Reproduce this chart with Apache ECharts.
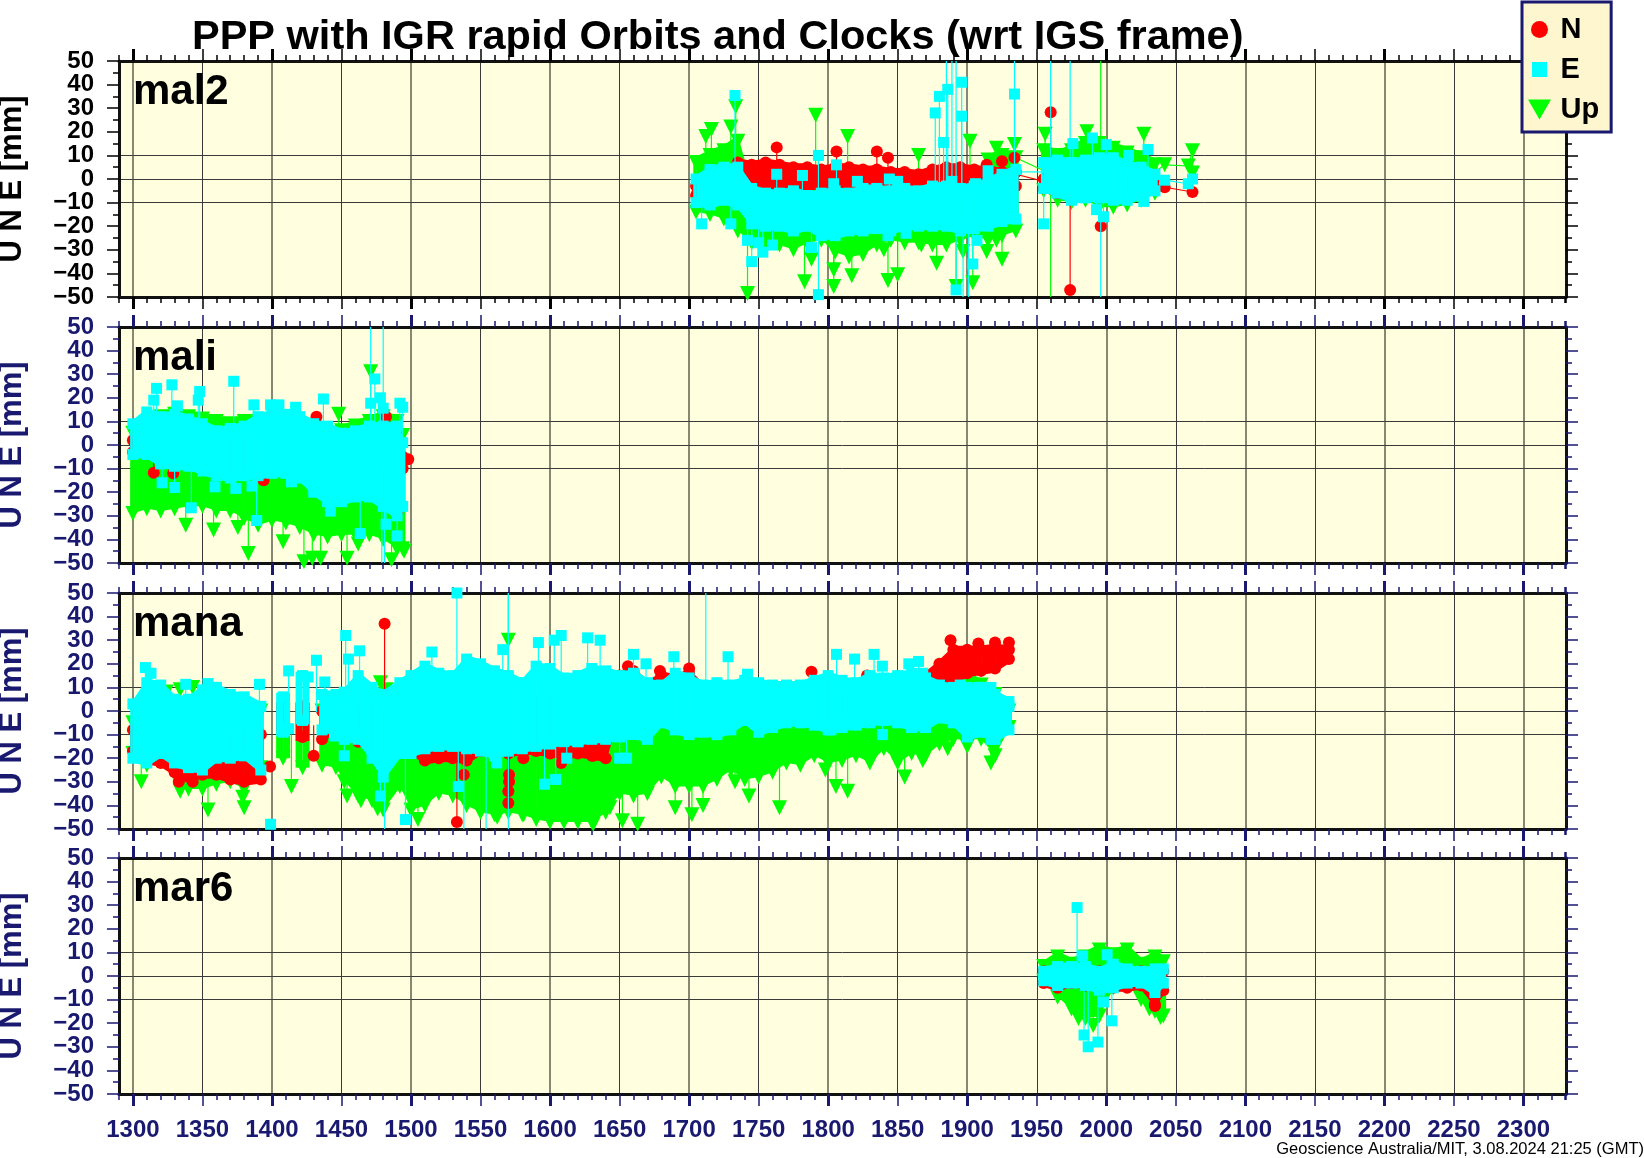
<!DOCTYPE html>
<html><head><meta charset="utf-8"><style>html,body{margin:0;padding:0;background:#fff}#c{width:1644px;height:1158px}</style>
<script src="https://cdn.jsdelivr.net/npm/echarts@6/dist/echarts.min.js"></script></head><body><div id="c"></div>
<script>
const stations=['mal2','mali','mana','mar6'];
const chartTitle='PPP with IGR rapid Orbits and Clocks (wrt IGS frame)';
const yLabelText='U N E [mm]';
const footer='Geoscience Australia/MIT, 3.08.2024 21:25 (GMT)';
const xMajorLabels=[1300,1350,1400,1450,1500,1550,1600,1650,1700,1750,1800,1850,1900,1950,2000,2050,2100,2150,2200,2250,2300];
const yLabelsA=[-50,-30,-10,10,30,50];
const yLabelsB=[-40,-20,0,20,40];

// mal2
const mal2Days=[1705,1715,1725,1735,1745,1755,1765,1775,1785,1795,1805,1815,1825,1835,1845,1855,1865,1875,1885,1895,1905,1915,1925,1935,1955,1965,1975,1985,1995,2005,2015,2025,2035];
const mal2EHigh=[0,4,5,5,-4,-6,-6,-5,-7,-6,-5,-6,-4,-4,-5,-4,-5,-3,-3,-4,-3,-1,2,4,7,8,7,8,9,9,6,5,2];
const mal2ELow=[-10,-11,-9,-11,-19,-20,-20,-22,-20,-24,-24,-22,-22,-21,-22,-20,-20,-20,-20,-22,-21,-20,-18,-17,-4,-6,-9,-8,-8,-9,-9,-7,-5];
const mal2NHigh=[-3,0,0,7,6,7,6,5,5,4,5,5,4,4,3,3,2,4,5,5,4,4,3,3,0,2,2,2,3,3,2,1,0];
const mal2NLow=[-7,-8,-6,-8,-3,-3,-3,-3,-3,-3,-3,-3,-3,-3,-3,-3,-3,-3,-3,-3,-3,-3,-3,-3,-4,-6,-7,-6,-6,-7,-7,-6,-4];
const mal2UpHigh=[7,10,12,16,-6,-6,-6,-6,-6,-6,-6,-6,-6,-6,-6,-6,-6,-6,-6,-6,-6,8,10,9,12,10,12,15,15,13,11,9,6];
const mal2UpLow=[-14,-15,-17,-22,-27,-29,-28,-30,-27,-26,-31,-33,-32,-28,-26,-27,-27,-28,-28,-26,-24,-26,-24,-22,-5,-9,-10,-9,-12,-12,-11,-9,-6];
const mal2EOut=[[1733,35.4],[1709,-19],[1730,-19],[1745,-35],[1753,-31],[1750,-27],[1742,-26],[1760,-28],[1763,2],[1781.5,1.5],[1793,10],[1793,-49],[1788,-29],[1806,6],[1804,-2],[1844,0],[1850,-1],[1821,-1],[1843,-24],[1856,-23],[1877,28],[1880,35],[1886,38],[1883,15.5],[1896,41],[1896,26.6],[1889,-1],[1892,-47],[1907,-26],[1904,-36],[1906,-2],[1915,3.5],[1934,36],[1955,-19],[1976,15],[1990,17.4],[2000,14.6],[2016,10],[2030,12.5],[1993,-13],[1998,-16],[2027,-9.5],[2042,-0.5],[2059,-2],[2062,0],[1885,60],[1889,60],[1892,60],[1897,-60],[1901,-60],[1934,60],[1960,60],[1974,60],[1996,-60]];
const mal2NOut=[[1763,13.4],[1806,11.7],[1835,11.7],[1843,9],[1934,9],[1925,7.5],[1914,6],[1960,28.3],[1974,-47],[1996,-20],[2042,-3.5],[2062,-5.5]];
const mal2UpOut=[[1733.5,30.6],[1791,27],[1814,18],[1865,10],[1902,16],[1716,21],[1712,18],[1730,22],[1921,13],[1934,14.6],[1956,19],[1986,20],[2027,19],[2042,6],[2062,12],[2059,5.5],[2062,2.5],[1742,-48.5],[1783,-43.5],[1804,-45.6],[1804,-38.5],[1817,-41],[1788,-34],[1850,-40.6],[1843,-43],[1878,-35.7],[1892,-45.6],[1904,-44],[1897,-30.7],[1914,-30.7],[1925,-34],[1921,-26],[1867,-28],[1840,-30],[1960,-60],[1996,60]];
const mal2ELinks=[[1935,3,1955,3],[2035,0,2042,-0.5],[2042,-0.5,2059,-2],[2059,-2,2062,0]];
const mal2NLinks=[[1935,2,1955,-1],[2035,-2,2042,-3.5],[2042,-3.5,2062,-5.5]];
const mal2UpLinks=[[1935,9,1957,3],[2035,3,2042,6],[2042,6,2059,5.5],[2059,5.5,2062,12],[2062,12,2062,2.5]];

// mali
const maliDays=[1300,1310,1320,1330,1340,1350,1360,1370,1380,1390,1400,1410,1420,1430,1440,1450,1460,1470,1480,1490,1494];
const maliEHigh=[9,14,12,13,11,9,6,7,8,12,13,13,12,9,8,5,6,8,8,8,1];
const maliELow=[-4,-4,-8,-9,-9,-11,-13,-14,-13,-13,-12,-12,-14,-20,-24,-24,-22,-22,-26,-30,-26];
const maliNHigh=[2,3,2,2,1,1,0,0,0,0,0,0,0,0,-2,-2,-2,-2,-2,-3,-5];
const maliNLow=[-3,-3,-6,-7,-7,-9,-11,-12,-11,-11,-10,-10,-12,-18,-22,-22,-20,-20,-24,-28,-10];
const maliUpHigh=[5,8,12,13,12,11,10,9,10,10,10,10,9,7,5,6,8,10,12,10,4];
const maliUpLow=[-29,-27,-28,-27,-26,-26,-28,-28,-31,-34,-32,-33,-35,-38,-39,-38,-38,-38,-40,-44,-44];
const maliEOut=[[1317,24],[1328,25.5],[1315,19],[1332,16.6],[1348,22.7],[1347,19],[1372.5,27],[1387,17],[1399,17],[1405,17],[1417,16],[1437,19.5],[1474,28],[1478,20],[1471,17.7],[1492,17.7],[1494,16],[1480,15.6],[1321,-16],[1330,-18],[1342,-26.6],[1359,-17.7],[1374,-18.4],[1389,-32],[1385.6,-17.4],[1414,-15.6],[1442,-28],[1463.5,-37.5],[1490,-38.5],[1482,-33.6],[1471,60],[1480,60],[1479,-60],[1481,-60]];
const maliNOut=[[1315,-11.8],[1394,-14.9],[1432,12],[1432,9],[1433,4],[1485,4],[1482,12],[1498,-6],[1341,-8.5],[1377,-10.6],[1329,-12]];
const maliUpOut=[[1471,31],[1448,13],[1338,-34],[1358,-36],[1375.5,-35],[1383,-46],[1408,-41],[1423,-49.5],[1429,-48],[1435,-48],[1454,-48],[1486,-48.6],[1495,-45],[1462,-42]];

// mana
const manaDays=[1300,1310,1320,1330,1340,1350,1360,1370,1380,1392,1408,1422,1436,1446,1452,1462,1472,1480,1492,1500,1510,1520,1530,1540,1550,1560,1570,1580,1590,1600,1610,1620,1630,1640,1650,1660,1670,1680,1690,1700,1710,1720,1730,1740,1750,1760,1770,1780,1790,1800,1810,1820,1830,1840,1850,1860,1870,1880,1890,1900,1910,1920,1930];
const manaEHigh=[3,12,11,5,5,9,10,7,6,2,6,15,7,7,8,15,10,7,12,15,19,16,15,22,20,17,15,12,19,18,14,15,18,17,15,16,12,11,16,14,11,12,11,13,12,11,11,11,13,15,13,12,15,14,15,16,14,11,10,10,10,7,4];
const manaELow=[-20,-22,-18,-22,-24,-25,-20,-20,-19,-25,-9,-4,-8,-8,-12,-12,-20,-28,-18,-18,-16,-15,-15,-16,-17,-19,-17,-16,-15,-14,-13,-13,-12,-12,-11,-10,-12,-5,-8,-10,-9,-10,-8,-4,-9,-7,-5,-5,-6,-8,-7,-6,-5,-4,-5,-7,-7,-3,-5,-11,-9,-12,-8];
const manaNHigh=[-8,-6,-8,-10,-12,-12,-12,-12,-12,-10,2,2,0,0,2,2,0,-2,0,0,2,2,2,2,2,3,3,3,4,4,5,5,6,7,15,17,11,15,14,16,10,10,10,8,9,7,8,7,13,13,6,8,13,12,13,14,15,20,26,26,26,27,26];
const manaNLow=[-17,-21,-22,-26,-28,-27,-27,-29,-30,-29,-7,-11,-12,-7,-10,-13,-15,-14,-15,-17,-21,-20,-20,-21,-17,-15,-18,-17,-17,-18,-19,-18,-19,-20,0,0,0,0,0,0,0,0,0,0,0,0,0,0,0,0,0,0,0,0,0,0,0,8,13,16,17,18,22];
const manaUpHigh=[-5,-2,0,0,0,0,0,0,0,0,0,0,0,0,0,2,2,0,3,3,3,3,3,3,3,3,3,3,3,3,3,3,3,3,3,3,3,3,3,3,3,3,3,3,3,3,3,3,3,3,3,3,3,3,3,3,3,14,14,14,11,7,0];
const manaUpLow=[-18,-23,-20,-27,-33,-33,-31,-30,-33,-24,-20,-24,-23,-24,-30,-36,-38,-42,-32,-42,-40,-35,-36,-40,-43,-44,-43,-44,-46,-47,-47,-47,-47,-43,-35,-36,-35,-28,-32,-32,-32,-29,-25,-29,-28,-26,-22,-23,-19,-22,-21,-19,-22,-16,-22,-18,-19,-14,-12,-12,-12,-19,-7];
const manaEOut=[[1309,18.4],[1313,16],[1338,11.3],[1354,11.6],[1360,10],[1391,11.3],[1412,17],[1426,14.4],[1432,21.5],[1438,12.3],[1453,32],[1455,22],[1463,25.5],[1515,25],[1533,50],[1566,26],[1603,30],[1608,32],[1627,31],[1636,30],[1591.6,29],[1399,-48],[1412,-7.5],[1445,-10.6],[1452,-19],[1458.5,-10],[1478,-36],[1496,-46],[1534,-32],[1561.6,-22],[1596,-31],[1604,-29],[1612,-20],[1620,-13],[1481,-60],[1538,-60],[1554,-60],[1570,-60],[1570,60],[1712,60],[1660,24],[1669,20],[1689,23],[1728,23],[1742,15.6],[1806,24],[1819,22],[1833,24],[1839,19],[1858,20],[1865,21],[1868,16],[1839,-10],[1802,-8],[1650,-20],[1655,-20],[1895,11],[1908,10],[1917,10],[1930,2],[1917,-12]];
const manaNOut=[[1481,37],[1398.6,-23.5],[1430,-19],[1343,-30],[1333,-30],[1533,-47],[1538,-27],[1570.5,-27],[1570.5,-30],[1570,-34],[1570,-39],[1608,-22],[1631,-19],[1580.8,-20],[1656,19],[1679,17],[1700,18],[1788,16.6],[1828,15],[1888,30],[1930,29],[1908,28.6],[1920,29]];
const manaUpOut=[[1306,-30],[1324,8],[1334,9],[1343,10],[1354,-42],[1334,-34],[1380,-41],[1379,-36.5],[1414,-32],[1454,-36],[1464,-38],[1478,12],[1482,9],[1476,-41.5],[1505,-46],[1562,-45],[1570,30],[1570,60],[1551,-41],[1581,-44],[1631,-48],[1643,-41],[1652,-46.5],[1663,-48],[1690,-41],[1702,-44],[1710,-40],[1743,-36],[1765,-41],[1733,-30],[1805.6,-32],[1814,-34],[1798,-25],[1855,-28],[1868,-21],[1886,-16],[1900,-15],[1917,-22]];

// mar6
const mar6Days=[1955,1965,1975,1985,1995,2005,2015,2025,2035,2041];
const mar6EHigh=[2,4,4,4,2,5,3,2,3,3];
const mar6ELow=[-2,-4,-3,-4,-6,-5,-3,-3,-7,-3];
const mar6NHigh=[2,2,2,2,2,2,2,2,2,2];
const mar6NLow=[-3,-5,-3,-4,-5,-5,-5,-4,-12,-6];
const mar6UpHigh=[4,8,5,8,11,9,11,5,8,6];
const mar6UpLow=[-2,-9,-14,-18,-17,-5,-4,-10,-15,-17];
const mar6EOut=[[1979,29],[1984,-25],[1987,-30],[1994,-28],[1998,-11],[2004,-19],[2000.6,9],[1983,8.5]];
const mar6NOut=[[2035,-12.7]];
const mar6UpOut=[[1990.6,-21],[1980,-18],[2039,-17.6],[2031,-14]];

const panels=[
 {days:mal2Days,Up:[mal2UpHigh,mal2UpLow,mal2UpOut,mal2UpLinks],N:[mal2NHigh,mal2NLow,mal2NOut,mal2NLinks],E:[mal2EHigh,mal2ELow,mal2EOut,mal2ELinks]},
 {days:maliDays,Up:[maliUpHigh,maliUpLow,maliUpOut,[]],N:[maliNHigh,maliNLow,maliNOut,[]],E:[maliEHigh,maliELow,maliEOut,[]]},
 {days:manaDays,Up:[manaUpHigh,manaUpLow,manaUpOut,[]],N:[manaNHigh,manaNLow,manaNOut,[]],E:[manaEHigh,manaELow,manaEOut,[]]},
 {days:mar6Days,Up:[mar6UpHigh,mar6UpLow,mar6UpOut,[]],N:[mar6NHigh,mar6NLow,mar6NOut,[]],E:[mar6EHigh,mar6ELow,mar6EOut,[]]}
];
const gridTops=[61,327,593,858];
const XMIN=1290,XMAX=2330.6,NAVY='#191970',FRAME='#111111',FONT='"Liberation Sans",Arial,sans-serif';
const style={N:{color:'#ff0000',symbol:'circle',size:12,padT:4,padB:4,z:5},E:{color:'#00ffff',symbol:'rect',size:11,padT:4,padB:4,z:8},Up:{color:'#00ff00',symbol:'path://M0,0L14,0L7,14Z',size:15,padT:6,padB:0,z:2}};
const mult=(step,skip)=>{const a=[];for(let v=1300;v<=2300;v+=step){if(!skip||v%skip!==0)a.push(v);}return a;};
const CAP=2,SOLO_CAP=5;

const grid=[],xAxis=[],yAxis=[],series=[];
panels.forEach((p,i)=>{
 const tc=i===0?'#000':NAVY, gi=i;
 grid.push({left:119,width:1447,top:gridTops[i],height:236,show:true,backgroundColor:'#ffffe0',borderWidth:0,containLabel:false,outerBoundsMode:'none'});
 const first=xAxis.length;
 const base={gridIndex:gi,type:'value',min:XMIN,max:XMAX,axisLine:{show:false,onZero:false},axisLabel:{show:false},splitLine:{show:false}};
 ['bottom','top'].forEach((pos,k)=>{
  xAxis.push({...base,position:pos,
   axisLine:{show:true,onZero:false,lineStyle:{color:FRAME,width:3}},
   axisTick:{show:true,length:12,customValues:mult(100),lineStyle:{color:tc,width:3}},
   axisLabel:(pos==='bottom'&&i===3)?{show:true,customValues:xMajorLabels,margin:24,color:NAVY,fontFamily:FONT,fontWeight:'bold',fontSize:24,hideOverlap:false,showMinLabel:true,showMaxLabel:true,formatter:v=>String(v)}:{show:false},
   splitLine:k===0?{show:true,lineStyle:{color:'rgba(70,70,55,0.65)',width:2}}:{show:false}});
  xAxis.push({...base,position:pos,
   axisTick:{show:true,length:12,customValues:mult(50,100),lineStyle:{color:tc,width:1.5}},
   splitLine:k===0?{show:true,lineStyle:{color:'#3a3a3a',width:1}}:{show:false}});
  xAxis.push({...base,position:pos,interval:10,
   axisTick:{show:true,length:6,lineStyle:{color:tc,width:1.5}}});
 });
 const firstY=yAxis.length;
 const yLab=vals=>({show:true,customValues:vals,margin:25,showMinLabel:true,showMaxLabel:true,hideOverlap:false,color:tc,fontFamily:FONT,fontWeight:'bold',fontSize:24,formatter:v=>String(v).replace('-','\u2212')});
 ['left','right'].forEach(pos=>{
  yAxis.push({gridIndex:gi,type:'value',position:pos,min:-50,max:50,interval:10,
   axisLine:{show:true,onZero:false,lineStyle:{color:FRAME,width:3}},
   axisTick:{show:true,length:12,lineStyle:{color:tc,width:1.5}},
   minorTick:{show:true,splitNumber:2,length:6,lineStyle:{color:tc,width:1.5}},
   axisLabel:pos==='left'?yLab(yLabelsA):{show:false},
   splitLine:{show:false},
   name:pos==='left'?yLabelText:'',nameLocation:'middle',nameRotate:90,nameGap:91,nameMoveOverlap:false,
   nameTextStyle:{color:tc,fontFamily:FONT,fontWeight:'bold',fontSize:31}});
 });
 yAxis.push({gridIndex:gi,type:'value',position:'left',min:-50,max:50,
  axisLine:{show:false,onZero:false},axisLabel:yLab(yLabelsB),
  axisTick:{show:false,customValues:[-10,0,10]},
  splitLine:{show:true,lineStyle:{color:'#3a3a3a',width:1}}});
 ['Up','N','E'].forEach(c=>{
  const [hi,lo,out,links]=p[c], st=style[c];
  const segs=links.slice();
  out.forEach(([x,y])=>{
   let best=-1,d=1e9;
   p.days.forEach((t,j)=>{const e=Math.abs(t-x);if(e<d){d=e;best=j;}});
   if(d<=6)segs.push([x,y,x,(hi[best]+lo[best])/2]);
  });
  const axes={xAxisIndex:first,yAxisIndex:firstY};
  series.push({type:'custom',...axes,z:st.z,clip:true,silent:true,animation:false,data:segs,encode:{x:0,y:1},
   renderItem:(ps,api)=>{const a=api.coord([api.value(0),api.value(1)]),b=api.coord([api.value(2),api.value(3)]);
    return {type:'line',shape:{x1:a[0],y1:a[1],x2:b[0],y2:b[1]},style:{stroke:st.color,lineWidth:1.2}};}});
  // filled body between the read upper and lower envelope of each dense cloud
  const bands=[];
  p.days.forEach((t,j)=>{
   const prev=j>0&&t-p.days[j-1]<=12, next=j<p.days.length-1&&p.days[j+1]-t<=12;
   const cap=(!prev&&!next)?SOLO_CAP:CAP;
   if(!prev)bands.push([t-cap,hi[j],lo[j],t,hi[j],lo[j]]);
   if(next)bands.push([t,hi[j],lo[j],p.days[j+1]+0.5,hi[j+1],lo[j+1]]);
   else bands.push([t,hi[j],lo[j],t+cap,hi[j],lo[j]]);
  });
  series.push({type:'custom',...axes,z:st.z+1,clip:true,silent:true,animation:false,data:bands,encode:{x:0,y:1},
   renderItem:(ps,api)=>{
    const a=api.coord([api.value(0),api.value(1)]),b=api.coord([api.value(3),api.value(4)]),
          c2=api.coord([api.value(3),api.value(5)]),d=api.coord([api.value(0),api.value(2)]);
    return {type:'polygon',shape:{points:[[a[0],a[1]-st.padT],[b[0],b[1]-st.padT],[c2[0],c2[1]+st.padB],[d[0],d[1]+st.padB]]},style:{fill:st.color}};}});
  const pts=[];p.days.forEach((t,j)=>{pts.push([t,hi[j]]);pts.push([t,lo[j]]);});
  series.push({type:'scatter',name:c,...axes,z:st.z+2,clip:true,silent:true,animation:false,
   symbol:st.symbol,symbolSize:st.size,symbolKeepAspect:true,itemStyle:{color:st.color,opacity:1},
   data:pts.concat(out)});
 });
});

const titles=[
 {text:chartTitle,left:192,top:17,padding:0,textStyle:{fontFamily:FONT,fontWeight:'bold',fontSize:41.5,color:'#000'}},
 {text:footer,right:0,top:1141,padding:0,textStyle:{fontFamily:FONT,fontWeight:'normal',fontSize:16.5,color:'#000'}}
];
stations.forEach((s,i)=>titles.push({text:s,left:133,top:gridTops[i]+10,padding:0,textStyle:{fontFamily:FONT,fontWeight:'bold',fontSize:42,color:'#000'}}));

echarts.init(document.getElementById('c'),null,{renderer:'canvas'}).setOption({
 animation:false,backgroundColor:'#fff',title:titles,grid,xAxis,yAxis,series,
 legend:{show:true,orient:'vertical',left:1522,top:2,width:95,height:130,padding:[13,12,8,6],itemGap:11,itemWidth:24,itemHeight:20,
  backgroundColor:'#fdf6cf',borderColor:NAVY,borderWidth:3,borderRadius:0,z:50,selectedMode:false,
  textStyle:{fontFamily:FONT,fontWeight:'bold',fontSize:29,color:'#000',padding:[0,0,0,4]},
  data:[{name:'N',icon:'path://M-1.5,-1.5L-1.5,-1.5M0,8.5a8.5,8.5 0 1,0 17,0a8.5,8.5 0 1,0 -17,0ZM18.5,18.5L18.5,18.5',itemStyle:{color:'#ff0000'}},
        {name:'E',icon:'path://M-2.5,-2.5L-2.5,-2.5M0,0L15,0L15,15L0,15ZM17.5,17.5L17.5,17.5',itemStyle:{color:'#00ffff'}},
        {name:'Up',icon:'path://M0,0L23,0L11.5,20Z',itemStyle:{color:'#00ff00'}}]},
 tooltip:{show:false}
});
</script></body></html>
